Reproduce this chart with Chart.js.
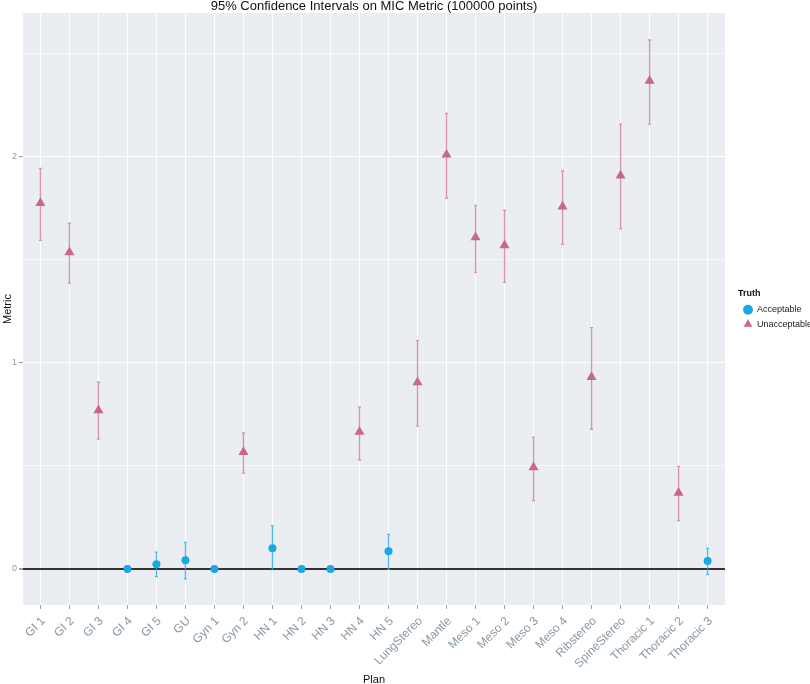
<!DOCTYPE html>
<html>
<head>
<meta charset="utf-8">
<title>95% Confidence Intervals on MIC Metric</title>
<script src="https://cdn.jsdelivr.net/npm/chart.js@4.4.1/dist/chart.umd.min.js"></script>
<style>
    html, body { margin: 0; padding: 0; background: #ffffff; }
    #wrap { width: 810px; height: 684px; position: relative; }
</style>
</head>
<body>
<div id="wrap"><canvas id="micChart"></canvas></div>
<script>
/* data */
var plans = ['GI 1', 'GI 2', 'GI 3', 'GI 4', 'GI 5', 'GU', 'Gyn 1', 'Gyn 2', 'HN 1', 'HN 2', 'HN 3', 'HN 4',
    'HN 5', 'LungStereo', 'Mantle', 'Meso 1', 'Meso 2', 'Meso 3', 'Meso 4', 'Ribstereo', 'SpineStereo',
    'Thoracic 1', 'Thoracic 2', 'Thoracic 3'];
var truth = ['U', 'U', 'U', 'A', 'A', 'A', 'A', 'U', 'A', 'A', 'A', 'U',
    'A', 'U', 'U', 'U', 'U', 'U', 'U', 'U', 'U', 'U', 'U', 'A'];
var metric = [1.774, 1.535, 0.769, 0, 0.023, 0.042, 0, 0.566, 0.100, 0, 0, 0.664,
    0.085, 0.905, 2.008, 1.607, 1.569, 0.492, 1.757, 0.930, 1.907, 2.366, 0.369, 0.038];
var lower = [1.593, 1.385, 0.629, 0, -0.037, -0.048, 0, 0.464, -0.005, 0, 0, 0.528,
    -0.002, 0.692, 1.798, 1.438, 1.389, 0.331, 1.574, 0.677, 1.648, 2.156, 0.234, -0.028];
var upper = [1.942, 1.676, 0.905, 0, 0.081, 0.129, 0, 0.659, 0.208, 0, 0, 0.784,
    0.167, 1.107, 2.208, 1.762, 1.738, 0.639, 1.930, 1.170, 2.156, 2.564, 0.497, 0.100];
var yTicks = [0, 0.5, 1, 1.5, 2, 2.5];

var fontFamily = '"Liberation Sans", Arial, sans-serif';
var blue = '#18A8E6';
var pink = '#C9668B';

/*Build points of one group*/
function pointsFor(group) {
    var pts = [];
    for (var i = 0; i < plans.length; i++) {
        if (truth[i] == group) {
            pts.push({ x: i, y: metric[i], lo: lower[i], hi: upper[i] });
        }
    }
    return pts;
}

/*Grey panel behind the plot*/
var panelBg = {
    id: 'panelBg',
    beforeDraw: function (chart) {
        var a = chart.chartArea;
        var ctx = chart.ctx;
        ctx.save();
        ctx.fillStyle = '#EAEEF2';
        ctx.fillRect(a.left, a.top, a.right - a.left, a.bottom - a.top);
        ctx.restore();
    }
};

/*Error bars from lo / hi of every point*/
var errorBars = {
    id: 'errorBars',
    beforeDatasetsDraw: function (chart) {
        var ctx = chart.ctx;
        var xs = chart.scales.x;
        var ys = chart.scales.y;
        ctx.save();
        chart.data.datasets.forEach(function (ds) {
            ctx.strokeStyle = ds.errorColor;
            ctx.lineWidth = 1.3;
            ds.data.forEach(function (p) {
                if (p.hi == p.lo) return;
                var x = xs.getPixelForValue(p.x);
                var y1 = ys.getPixelForValue(p.hi);
                var y2 = ys.getPixelForValue(p.lo);
                ctx.beginPath();
                ctx.moveTo(x, y1); ctx.lineTo(x, y2);
                ctx.moveTo(x - 1.5, y1); ctx.lineTo(x + 1.5, y1);
                ctx.moveTo(x - 1.5, y2); ctx.lineTo(x + 1.5, y2);
                ctx.stroke();
            });
        });
        ctx.restore();
    }
};

var chart = new Chart(document.getElementById('micChart'), {
    type: 'scatter',
    data: {
        datasets: [
            {
                label: 'Acceptable',
                data: pointsFor('A'),
                pointStyle: 'circle',
                pointRadius: 4,
                backgroundColor: blue,
                borderColor: blue,
                borderWidth: 0,
                errorColor: 'rgba(40,170,228,0.8)'
            },
            {
                label: 'Unacceptable',
                data: pointsFor('U'),
                pointStyle: 'triangle',
                pointRadius: 5.8,
                backgroundColor: pink,
                borderColor: pink,
                borderWidth: 0,
                errorColor: 'rgba(205,110,145,0.75)'
            }
        ]
    },
    options: {
        responsive: true,
        maintainAspectRatio: false,
        animation: false,
        layout: { padding: { top: 0, right: 0, bottom: 0, left: 0 } },
        plugins: {
            title: {
                display: true,
                fullSize: false,
                text: '95% Confidence Intervals on MIC Metric (100000 points)',
                color: '#111111',
                font: { family: fontFamily, size: 13, weight: 'normal', lineHeight: 1 },
                padding: { top: 0, bottom: 0 }
            },
            legend: {
                position: 'right',
                align: 'start',
                maxWidth: 72,
                title: {
                    display: true,
                    text: 'Truth',
                    position: 'start',
                    color: '#111111',
                    font: { family: fontFamily, size: 9, weight: 'bold' },
                    padding: { top: 289, bottom: 0 }
                },
                labels: {
                    usePointStyle: true,
                    boxHeight: 7,
                    padding: 5.5,
                    color: '#222222',
                    font: { family: fontFamily, size: 9 }
                }
            },
            tooltip: { enabled: false }
        },
        scales: {
            x: {
                type: 'linear',
                min: -0.6,
                max: 23.6,
                afterBuildTicks: function (scale) {
                    scale.ticks = plans.map(function (p, i) { return { value: i }; });
                },
                afterFit: function (scale) { scale.height = 79; },
                grid: { color: '#FFFFFF', lineWidth: 1, tickLength: 4, tickColor: '#A0A0A0' },
                border: { display: false },
                ticks: {
                    autoSkip: false,
                    minRotation: 45,
                    maxRotation: 45,
                    padding: 5,
                    labelOffset: 3,
                    color: '#8898A4',
                    font: { family: fontFamily, size: 12 },
                    callback: function (v) { return plans[v]; }
                },
                title: {
                    display: true,
                    text: 'Plan',
                    color: '#111111',
                    font: { family: fontFamily, size: 11, lineHeight: 0.7 },
                    padding: { top: 0, bottom: 0 }
                }
            },
            y: {
                min: -0.175,
                max: 2.695,
                afterBuildTicks: function (scale) {
                    scale.ticks = yTicks.map(function (v) { return { value: v }; });
                },
                afterFit: function (scale) { scale.width = 23; },
                grid: {
                    color: function (c) { return c.tick && c.tick.value === 0 ? '#333333' : '#FFFFFF'; },
                    lineWidth: function (c) {
                        if (c.tick && c.tick.value === 0) return 2;
                        return c.tick && c.tick.value % 1 === 0 ? 1.1 : 0.6;
                    },
                    tickLength: 4,
                    tickColor: function (c) { return c.tick && c.tick.value % 1 === 0 ? '#A0A0A0' : 'rgba(0,0,0,0)'; }
                },
                border: { display: false },
                ticks: {
                    padding: 2,
                    color: '#8898A4',
                    font: { family: fontFamily, size: 9 },
                    callback: function (v) { return v % 1 === 0 ? String(v) : ''; }
                },
                title: {
                    display: true,
                    text: 'Metric',
                    color: '#111111',
                    font: { family: fontFamily, size: 11, lineHeight: 1.5 },
                    padding: 0
                }
            },
            spacer: {
                type: 'linear',
                position: 'right',
                display: true,
                afterFit: function (scale) { scale.width = 13; },
                grid: { display: false },
                border: { display: false },
                ticks: { display: false }
            }
        }
    },
    plugins: [panelBg, errorBars]
});
</script>
</body>
</html>
